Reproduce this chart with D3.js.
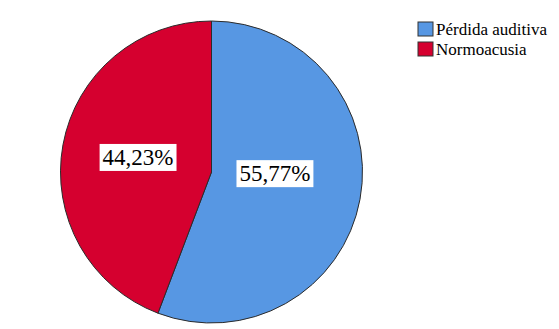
<!DOCTYPE html>
<html>
<head>
<meta charset="utf-8">
<script src="https://cdn.jsdelivr.net/npm/d3@7"></script>
<style>
  body { margin: 0; background: #fff; }
  svg { display: block; }
</style>
</head>
<body>
<script>
(function(){

    //chart data
    var categories = ["Pérdida auditiva", "Normoacusia"];
    var values = [55.77, 44.23];
    var labels = ["55,77%", "44,23%"];
    var colors = ["#5797e3", "#d5002f"];

    var width = 559,
        height = 329,
        cx = 211.5,
        cy = 172,
        radius = 151,
        font = "Liberation Serif";

    var svg = d3.select("body")
        .append("svg")
        .attr("width", width)
        .attr("height", height);

    var color = d3.scaleOrdinal()
        .domain(categories)
        .range(colors);

    var pie = d3.pie()
        .sort(null)
        .value(function(d){ return d.value; });

    var data = categories.map(function(c, i){
        return { cat: c, value: values[i], label: labels[i] };
    });

    var arcs = pie(data);

    var arc = d3.arc()
        .innerRadius(0)
        .outerRadius(radius);

    //label arc, a bit inside the centroid
    var labelArc = d3.arc()
        .innerRadius(radius * 0.48)
        .outerRadius(radius * 0.48);

    var g = svg.append("g")
        .attr("transform", "translate(" + cx + "," + cy + ")");

    g.selectAll(".slice")
        .data(arcs)
        .enter()
        .append("path")
        .attr("class", "slice")
        .attr("d", arc)
        .attr("fill", function(d){ return color(d.data.cat); })
        .attr("stroke", "#2b2b2b")
        .attr("stroke-width", 1);

    //labels with white boxes (SPSS pulls them up and left a bit)
    var lab = g.selectAll(".lab")
        .data(arcs)
        .enter()
        .append("g")
        .attr("class", "lab")
        .attr("transform", function(d){
            var c = labelArc.centroid(d);
            return "translate(" + (c[0] * 0.96 - 5) + "," + (c[1] * 0.62 - 7) + ")";
        });

    lab.append("text")
        .attr("text-anchor", "middle")
        .attr("dy", "0.35em")
        .attr("font-family", font)
        .attr("font-size", 23)
        .attr("fill", "#000")
        .text(function(d){ return d.data.label; });

    lab.each(function(){
        var t = d3.select(this).select("text");
        var b = t.node().getBBox();
        d3.select(this).insert("rect", "text")
            .attr("x", b.x - 3)
            .attr("y", b.y - 1)
            .attr("width", b.width + 6)
            .attr("height", b.height + 2)
            .attr("fill", "#fff");
    });

    //legend
    var legend = svg.append("g")
        .attr("transform", "translate(418,22)");

    var items = legend.selectAll(".item")
        .data(categories)
        .enter()
        .append("g")
        .attr("class", "item")
        .attr("transform", function(d, i){ return "translate(0," + (i * 20) + ")"; });

    items.append("rect")
        .attr("width", 15)
        .attr("height", 14)
        .attr("fill", function(d){ return color(d); })
        .attr("stroke", "#333")
        .attr("stroke-width", 1);

    items.append("text")
        .attr("x", 18)
        .attr("y", 13)
        .attr("font-family", font)
        .attr("font-size", 17)
        .attr("fill", "#000")
        .text(function(d){ return d; });

})();
</script>
</body>
</html>
